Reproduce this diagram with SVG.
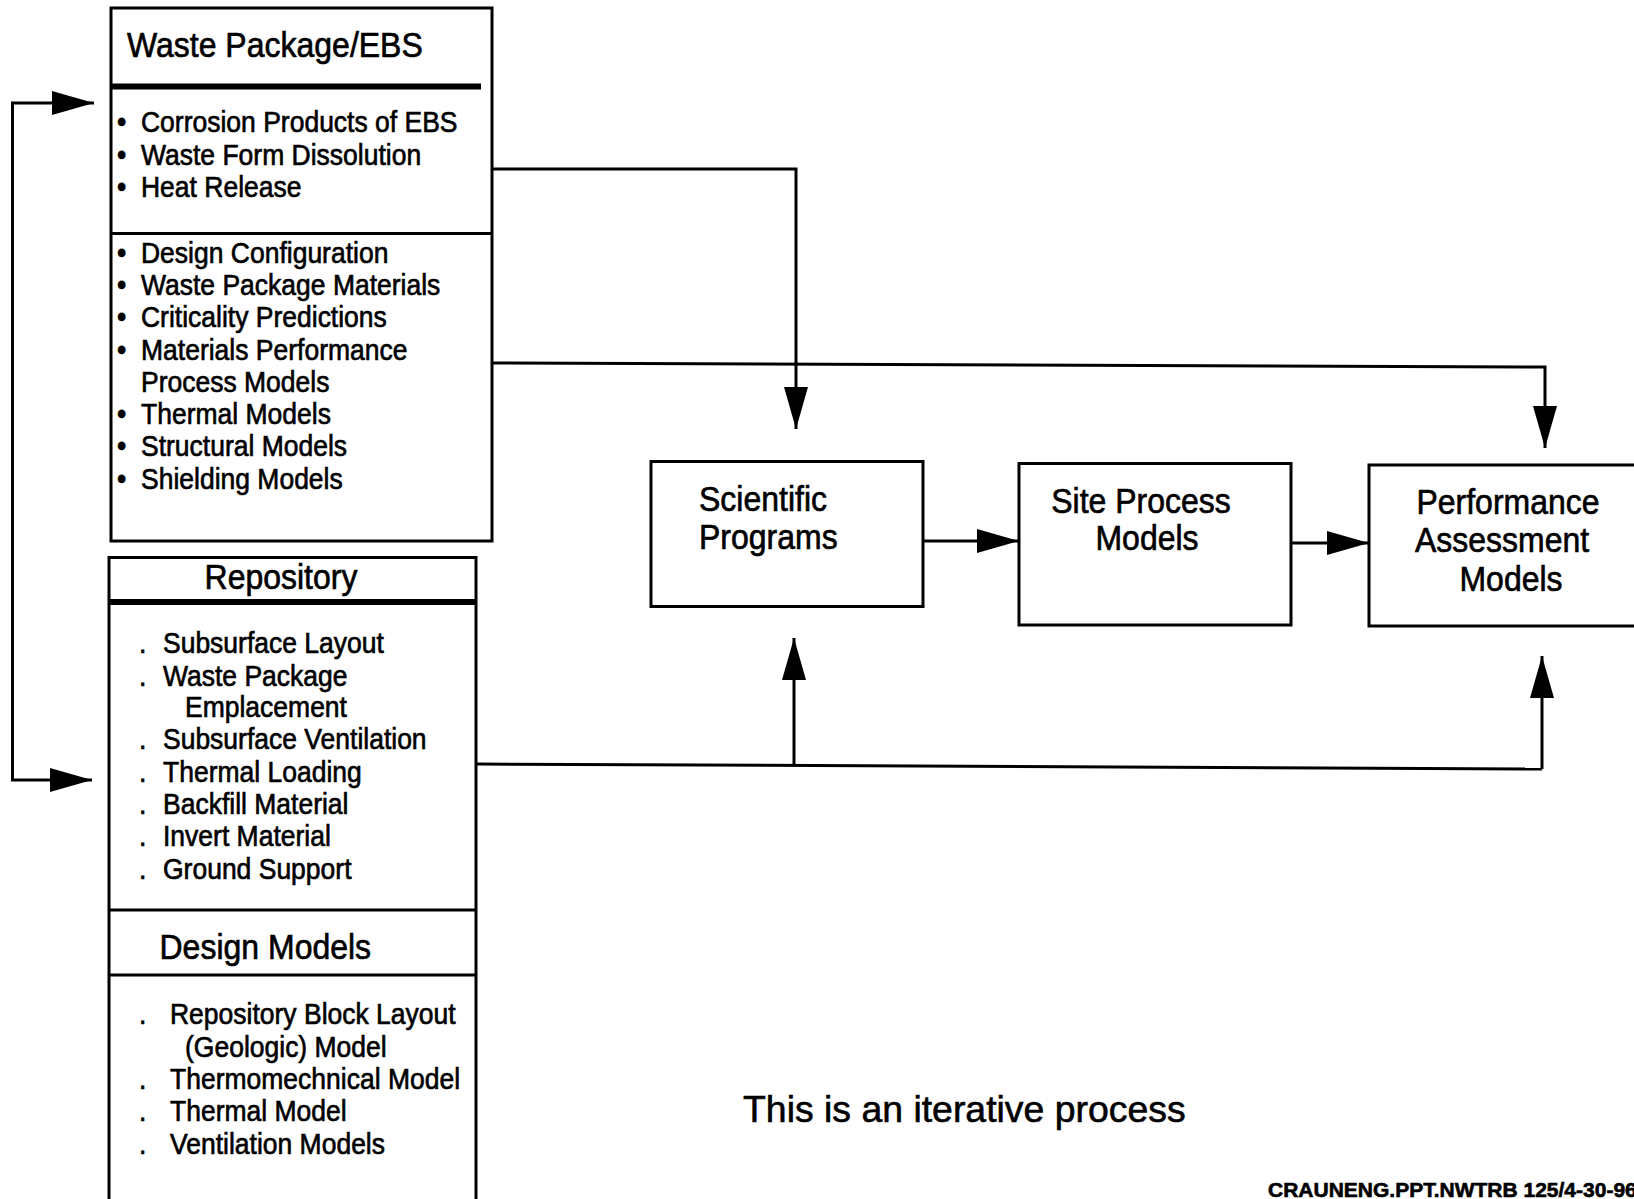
<svg xmlns="http://www.w3.org/2000/svg" width="1634" height="1199" viewBox="0 0 1634 1199">
<defs>
<style>
.box{fill:#fff;stroke:#000;stroke-width:3}
.div{stroke:#000;stroke-width:3}
.thick{stroke:#000;stroke-width:6}
.t{font-family:"Liberation Sans",Arial,sans-serif;fill:#000;stroke:#000;stroke-width:0.6}
.h{font-size:32px}
.i{font-size:26.5px}
.c{stroke:#000;stroke-width:3;fill:none}
</style>
<marker id="arr" markerUnits="userSpaceOnUse" markerWidth="42" markerHeight="24" refX="42" refY="12" orient="auto" viewBox="0 0 42 24">
<path d="M0,0 L42,12 L0,24 Z" fill="#000"/>
</marker>
</defs>
<rect width="1634" height="1199" fill="#fff"/>

<g id="connectors">
<path class="c" d="M12.5,440 V103 H94" marker-end="url(#arr)"/>
<path class="c" d="M12.5,440 V780 H92" marker-end="url(#arr)"/>
<path class="c" d="M492,169 H796 V429" marker-end="url(#arr)"/>
<path class="c" d="M490,363 L1545,367 V448" marker-end="url(#arr)"/>
<path class="c" d="M923,541 H1019" marker-end="url(#arr)"/>
<path class="c" d="M1291,543 H1369" marker-end="url(#arr)"/>
<path class="c" d="M477,764 L1542,769"/>
<path class="c" d="M794,764 V638" marker-end="url(#arr)"/>
<path class="c" d="M1542,769 V656" marker-end="url(#arr)"/>
</g>

<g id="waste-package">
<rect class="box" x="111" y="8" width="381" height="533"/>
<line class="thick" x1="111" y1="86.5" x2="481" y2="86.5"/>
<line class="div" x1="111" y1="233.5" x2="492" y2="233.5"/>
<text class="t h" transform="matrix(1,0,0,1.12,127,57)">Waste Package/EBS</text>
<text class="t i" transform="matrix(1,0,0,1.12,117,132)"><tspan x="0">•</tspan><tspan x="24">Corrosion Products of EBS</tspan></text>
<text class="t i" transform="matrix(1,0,0,1.12,117,165)"><tspan x="0">•</tspan><tspan x="24">Waste Form Dissolution</tspan></text>
<text class="t i" transform="matrix(1,0,0,1.12,117,197)"><tspan x="0">•</tspan><tspan x="24">Heat Release</tspan></text>
<text class="t i" transform="matrix(1,0,0,1.12,117,263)"><tspan x="0">•</tspan><tspan x="24">Design Configuration</tspan></text>
<text class="t i" transform="matrix(1,0,0,1.12,117,295)"><tspan x="0">•</tspan><tspan x="24">Waste Package Materials</tspan></text>
<text class="t i" transform="matrix(1,0,0,1.12,117,327)"><tspan x="0">•</tspan><tspan x="24">Criticality Predictions</tspan></text>
<text class="t i" transform="matrix(1,0,0,1.12,117,360)"><tspan x="0">•</tspan><tspan x="24">Materials Performance</tspan></text>
<text class="t i" transform="matrix(1,0,0,1.12,141,392)">Process Models</text>
<text class="t i" transform="matrix(1,0,0,1.12,117,424)"><tspan x="0">•</tspan><tspan x="24">Thermal Models</tspan></text>
<text class="t i" transform="matrix(1,0,0,1.12,117,456)"><tspan x="0">•</tspan><tspan x="24">Structural Models</tspan></text>
<text class="t i" transform="matrix(1,0,0,1.12,117,489)"><tspan x="0">•</tspan><tspan x="24">Shielding Models</tspan></text>
</g>

<g id="repository">
<rect class="box" x="109" y="557.5" width="367" height="660"/>
<line class="thick" x1="109" y1="602" x2="476" y2="602"/>
<line class="div" x1="109" y1="910" x2="476" y2="910"/>
<line class="div" x1="109" y1="975" x2="476" y2="975"/>
<text class="t h" text-anchor="middle" transform="matrix(1,0,0,1.12,281,589)">Repository</text>
<text class="t i" transform="matrix(1,0,0,1.12,139,653)"><tspan x="0">.</tspan><tspan x="24">Subsurface Layout</tspan></text>
<text class="t i" transform="matrix(1,0,0,1.12,139,686)"><tspan x="0">.</tspan><tspan x="24">Waste Package</tspan></text>
<text class="t i" transform="matrix(1,0,0,1.12,185,717)">Emplacement</text>
<text class="t i" transform="matrix(1,0,0,1.12,139,749)"><tspan x="0">.</tspan><tspan x="24">Subsurface Ventilation</tspan></text>
<text class="t i" transform="matrix(1,0,0,1.12,139,781.5)"><tspan x="0">.</tspan><tspan x="24">Thermal Loading</tspan></text>
<text class="t i" transform="matrix(1,0,0,1.12,139,814)"><tspan x="0">.</tspan><tspan x="24">Backfill Material</tspan></text>
<text class="t i" transform="matrix(1,0,0,1.12,139,846)"><tspan x="0">.</tspan><tspan x="24">Invert Material</tspan></text>
<text class="t i" transform="matrix(1,0,0,1.12,139,878.5)"><tspan x="0">.</tspan><tspan x="24">Ground Support</tspan></text>
<text class="t h" transform="matrix(1,0,0,1.12,159.5,959)">Design Models</text>
<text class="t i" transform="matrix(1,0,0,1.12,139,1024)"><tspan x="0">.</tspan><tspan x="31">Repository Block Layout</tspan></text>
<text class="t i" transform="matrix(1,0,0,1.12,185,1057)">(Geologic) Model</text>
<text class="t i" transform="matrix(1,0,0,1.12,139,1089)"><tspan x="0">.</tspan><tspan x="31">Thermomechnical Model</tspan></text>
<text class="t i" transform="matrix(1,0,0,1.12,139,1121)"><tspan x="0">.</tspan><tspan x="31">Thermal Model</tspan></text>
<text class="t i" transform="matrix(1,0,0,1.12,139,1153.5)"><tspan x="0">.</tspan><tspan x="31">Ventilation Models</tspan></text>
</g>

<g id="scientific-programs">
<rect class="box" x="651" y="461.5" width="272" height="145"/>
<text class="t h" transform="matrix(1,0,0,1.12,699,511)">Scientific</text>
<text class="t h" transform="matrix(1,0,0,1.12,699,549)">Programs</text>
</g>

<g id="site-process-models">
<rect class="box" x="1019" y="463.5" width="272" height="161.5"/>
<text class="t h" text-anchor="middle" transform="matrix(1,0,0,1.12,1141,513)">Site Process</text>
<text class="t h" text-anchor="middle" transform="matrix(1,0,0,1.12,1147,550)">Models</text>
</g>

<g id="performance-assessment-models">
<rect class="box" x="1369" y="465" width="280" height="161"/>
<text class="t h" text-anchor="middle" transform="matrix(1,0,0,1.12,1508,514)">Performance</text>
<text class="t h" text-anchor="middle" transform="matrix(1,0,0,1.12,1502,552)">Assessment</text>
<text class="t h" text-anchor="middle" transform="matrix(1,0,0,1.12,1511,591)">Models</text>
</g>

<text class="t" x="743" y="1122" font-size="37.4">This is an iterative process</text>
<text class="t" x="1268" y="1197" font-size="21" font-weight="bold" stroke-width="0">CRAUNENG.PPT.NWTRB 125/4-30-96</text>
</svg>
